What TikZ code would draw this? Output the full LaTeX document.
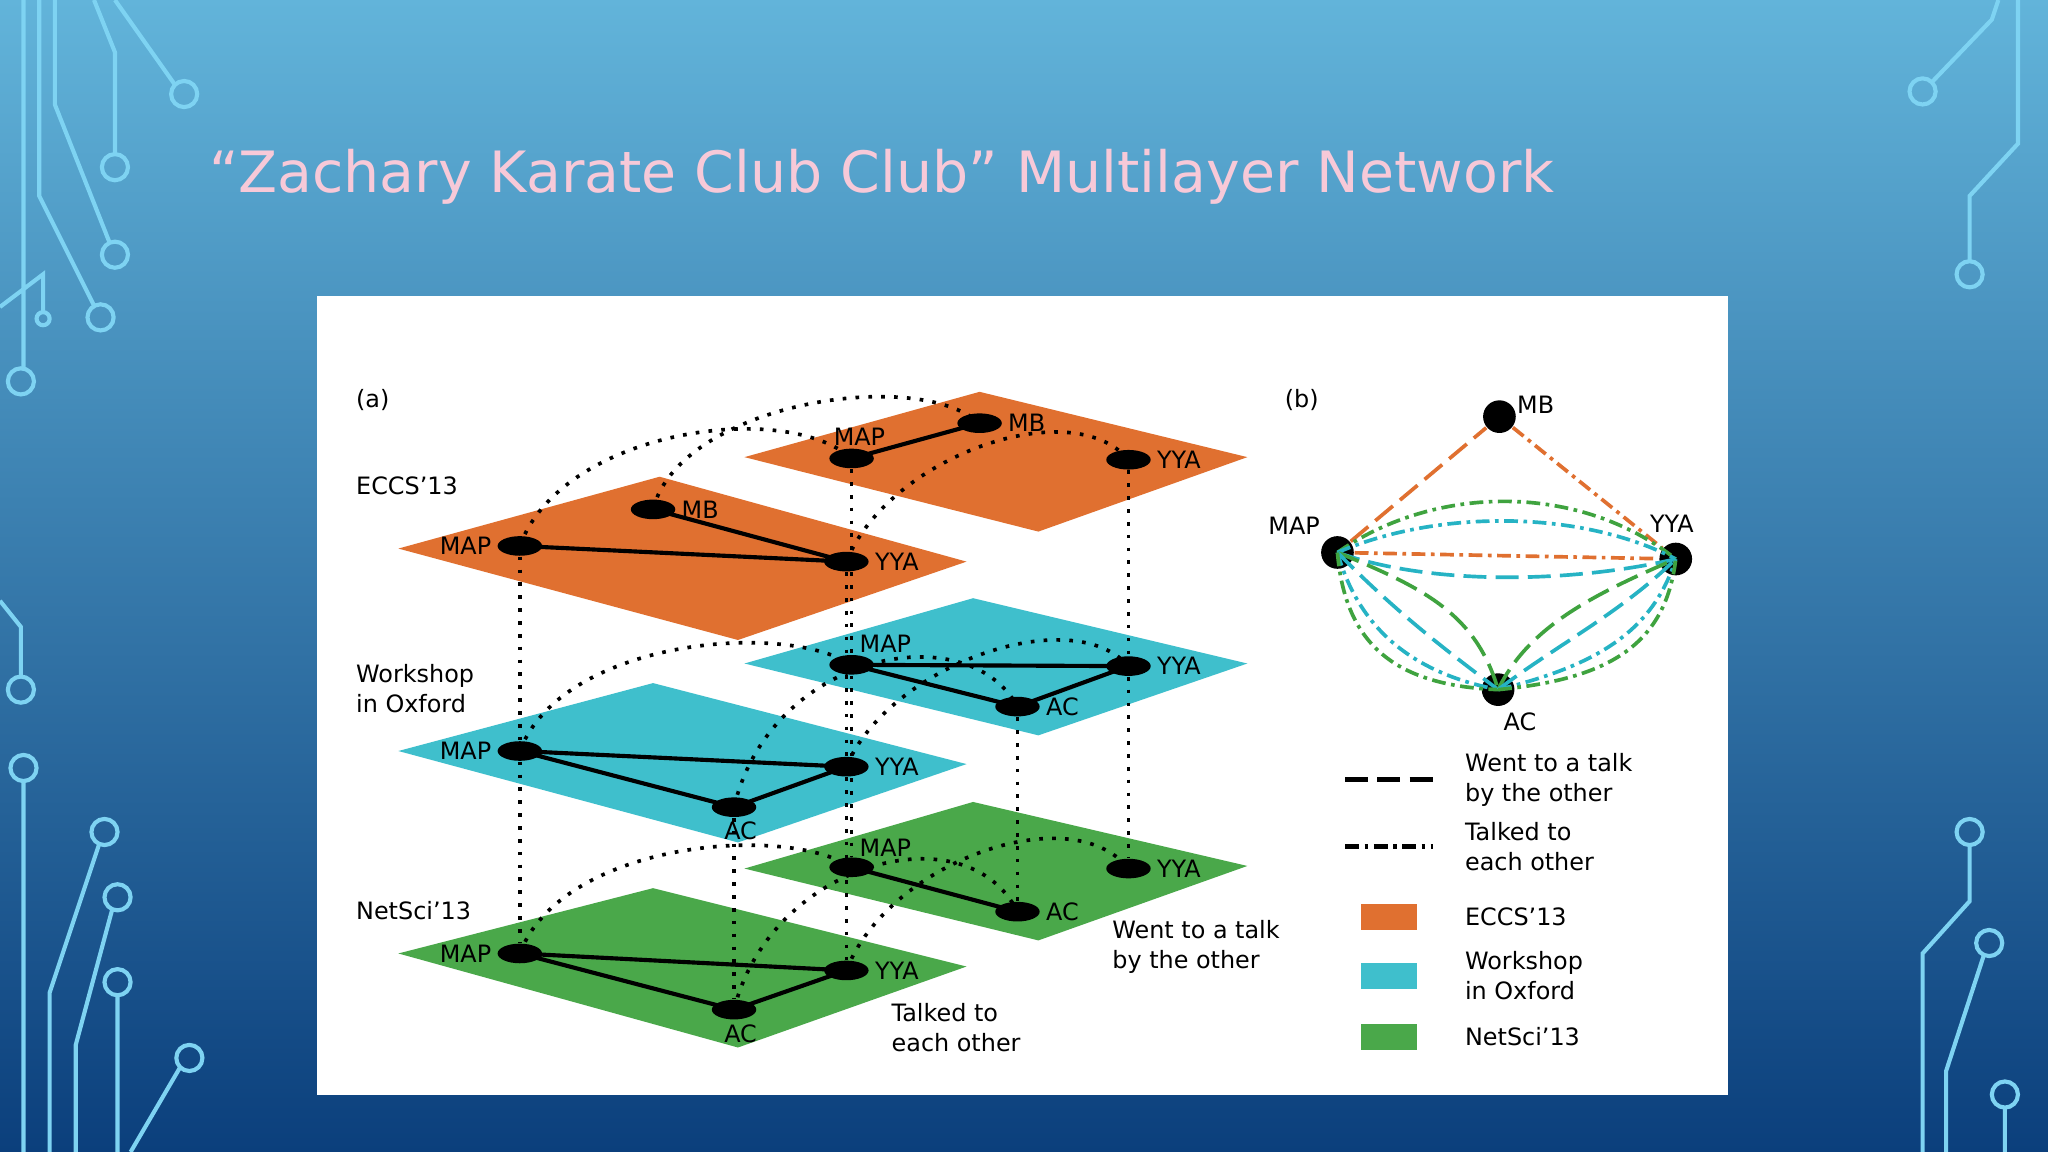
\documentclass[tikz,border=0pt]{standalone}
\usepackage{fontspec}
\setmainfont{DejaVu Sans}[Ligatures=ResetAll]
\usetikzlibrary{shapes.geometric}
\definecolor{bgtop}{HTML}{62B4DA}
\definecolor{bgbot}{HTML}{0B3F7C}
\definecolor{circ}{HTML}{7ED3F2}
\definecolor{tpink}{HTML}{F7C9D8}
\definecolor{lor}{HTML}{E07030}
\definecolor{lcy}{HTML}{3FBFCC}
\definecolor{lgr}{HTML}{4AA84A}
\definecolor{ecy}{HTML}{26B3C4}
\definecolor{egr}{HTML}{3FA33F}
\newcommand{\ap}{\symbol{39}}
\begin{document}
\begin{tikzpicture}[x=0.01cm,y=-0.01cm,
  nd/.style={ellipse,fill=black,inner sep=0pt,minimum width=0.34cm,minimum height=0.15cm},
  bn/.style={circle,fill=black,inner sep=0pt,minimum size=0.25cm},
  lb/.style={font=\fontsize{5.2}{6}\selectfont,inner sep=1pt},
  txt/.style={font=\fontsize{5.2}{6.6}\selectfont,align=left,anchor=west,inner sep=0pt},
  edge/.style={line width=0.9pt,black},
  dt/.style={line width=0.8pt,dotted,black},
  cir/.style={circ,line width=0.9pt},
  da/.style={line width=0.8pt,dash pattern=on 5pt off 2pt},
  dd/.style={line width=0.8pt,dash pattern=on 3pt off 1.2pt on 0.8pt off 1.2pt}]
\useasboundingbox (0,0) rectangle (1568,882);
\shade[top color=bgtop,bottom color=bgbot] (0,0) rectangle (1568,882);
% circuit decorations
\foreach \p in {(16,292),(77,243),(88,195),(88,128),(141,72),(16,528),(18,588),(80,637),(90,687),(90,752),(145,810),(1472,70),(1508,210),(1508,637),(1523,722),(1535,838)}
  \draw[cir] \p circle (10);
\draw[cir] (33,244) circle (5);
\draw[cir] (18,0)--(18,282) (30,0)--(30,150)--(72,234) (42,0)--(42,80)--(84,186) (72,0)--(88,40)--(88,118) (88,0)--(134,65)
 (0,235)--(33,210)--(33,239) (0,460)--(16,480)--(16,518) (18,598)--(18,882) (76,646)--(38,760)--(38,882) (86,696)--(58,800)--(58,882)
 (90,762)--(90,882) (138,817)--(100,882)
 (1479,63)--(1525,15)--(1530,0) (1508,200)--(1508,150)--(1545,110)--(1545,0)
 (1508,647)--(1508,690)--(1472,730)--(1472,882) (1519,731)--(1490,820)--(1490,882) (1535,848)--(1535,882);
% title
\node[tpink,anchor=west,font=\fontsize{12.4}{15}\selectfont,inner sep=0pt] (title) at (160,135) {“Zachary Karate Club Club” Multilayer Network};
% panel
\fill[white] (243,227) rectangle (1323,838);
% layers (back first)
\fill[lor] (570,350)--(750,300)--(955,350)--(795,407)--cycle;
\fill[lor] (305,420)--(505,365)--(740,430)--(565,490)--cycle;
\fill[lcy] (570,508)--(745,458)--(955,508)--(795,563)--cycle;
\fill[lcy] (305,575)--(500,523)--(740,585)--(565,645)--cycle;
\fill[lgr] (570,665)--(745,614)--(955,663)--(795,720)--cycle;
\fill[lgr] (305,730)--(500,680)--(740,740)--(565,802)--cycle;
% nodes
\node[nd] (eMAP) at (398,418) {}; \node[nd] (eMB) at (500,390) {}; \node[nd] (eYYA) at (648,430) {};
\node[nd] (EMAP) at (652,351) {}; \node[nd] (EMB) at (750,324) {}; \node[nd] (EYYA) at (864,352) {};
\node[nd] (wMAP) at (398,575) {}; \node[nd] (wYYA) at (648,587) {}; \node[nd] (wAC) at (562,618) {};
\node[nd] (WMAP) at (652,509) {}; \node[nd] (WYYA) at (864,510) {}; \node[nd] (WAC) at (779,541) {};
\node[nd] (nMAP) at (398,730) {}; \node[nd] (nYYA) at (648,743) {}; \node[nd] (nAC) at (562,773) {};
\node[nd] (NMAP) at (652,664) {}; \node[nd] (NYYA) at (864,665) {}; \node[nd] (NAC) at (779,698) {};
% intra-layer edges
\draw[edge] (eMAP.center)--(eYYA.center) (eMB.center)--(eYYA.center) (EMAP.center)--(EMB.center);
\draw[edge] (wMAP.center)--(wYYA.center) (wMAP.center)--(wAC.center) (wAC.center)--(wYYA.center);
\draw[edge] (WMAP.center)--(WYYA.center) (WMAP.center)--(WAC.center) (WAC.center)--(WYYA.center);
\draw[edge] (nMAP.center)--(nYYA.center) (nMAP.center)--(nAC.center) (nAC.center)--(nYYA.center);
\draw[edge] (NMAP.center)--(NAC.center);
% vertical dotted
\draw[dt] (eMAP)--(wMAP) (wMAP)--(nMAP) (eYYA)--(wYYA) (wYYA)--(nYYA) (wAC)--(nAC);
\draw[dt] (EMAP)--(WMAP) (WMAP)--(NMAP) (EYYA)--(WYYA) (WYYA)--(NYYA) (WAC)--(NAC);
% arcs between copies
\draw[dt] (eMAP.center) .. controls (430,330) and (600,305) .. (EMAP.center);
\draw[dt] (eMB.center) .. controls (520,310) and (700,280) .. (EMB.center);
\draw[dt] (eYYA.center) .. controls (680,350) and (820,300) .. (EYYA.center);
\draw[dt] (wMAP.center) .. controls (430,490) and (600,475) .. (WMAP.center);
\draw[dt] (wAC.center) .. controls (590,500) and (740,470) .. (WAC.center);
\draw[dt] (wYYA.center) .. controls (680,510) and (820,460) .. (WYYA.center);
\draw[dt] (nMAP.center) .. controls (430,645) and (600,630) .. (NMAP.center);
\draw[dt] (nAC.center) .. controls (590,660) and (740,620) .. (NAC.center);
\draw[dt] (nYYA.center) .. controls (680,660) and (820,610) .. (NYYA.center);
% node labels
\node[lb,anchor=east] at (eMAP.west) {MAP}; \node[lb,anchor=west] at (eMB.east) {MB}; \node[lb,anchor=west] at (eYYA.east) {YYA};
\node[lb,anchor=south] at (658,345) {MAP}; \node[lb,anchor=west] at (EMB.east) {MB}; \node[lb,anchor=west] at (EYYA.east) {YYA};
\node[lb,anchor=east] at (wMAP.west) {MAP}; \node[lb,anchor=west] at (wYYA.east) {YYA}; \node[lb,anchor=north] at (567,625) {AC};
\node[lb,anchor=west] at (654,493) {MAP}; \node[lb,anchor=west] at (WYYA.east) {YYA}; \node[lb,anchor=west] at (WAC.east) {AC};
\node[lb,anchor=east] at (nMAP.west) {MAP}; \node[lb,anchor=west] at (nYYA.east) {YYA}; \node[lb,anchor=north] at (567,780) {AC};
\node[lb,anchor=west] at (654,649) {MAP}; \node[lb,anchor=west] at (NYYA.east) {YYA}; \node[lb,anchor=west] at (NAC.east) {AC};
% layer labels
\node[txt] (la) at (272,306) {(a)};
\node[txt] (lb1) at (272,372) {ECCS\ap13};
\node[txt] (lw) at (272,527) {Workshop\\in Oxford};
\node[txt] (ln) at (272,697) {NetSci\ap13};
\node[txt] (an1) at (851,725) {Went to a talk\\by the other};
\node[txt] (an2) at (682,787) {Talked to\\each other};
% panel b
\node[txt] (lbb) at (983,306) {(b)};
\node[bn] (MB) at (1148,319) {}; \node[bn] (MAP) at (1024,423) {}; \node[bn] (YYA) at (1283,428) {}; \node[bn] (AC) at (1147,528) {};
\node[lb,anchor=west] at (MB.north east) {MB};
\node[lb,anchor=south east] at (MAP.north west) {MAP};
\node[lb,anchor=south] at (1280,412) {YYA};
\node[lb,anchor=north west] at (AC.south) {AC};
\draw[da,lor] (MAP)--(MB);
\draw[dd,lor] (MB)--(YYA);
\draw[dd,lor] (MAP)--(YYA);
\draw[dd,egr] (MAP.center) .. controls (1100,370) and (1210,370) .. (YYA.center);
\draw[dd,ecy] (MAP.center) .. controls (1100,390) and (1210,390) .. (YYA.center);
\draw[da,ecy] (MAP.center) .. controls (1100,450) and (1210,445) .. (YYA.center);
\draw[da,egr] (MAP.center) .. controls (1090,450) and (1130,470) .. (AC.center);
\draw[da,ecy] (MAP.center) .. controls (1070,470) and (1110,500) .. (AC.center);
\draw[dd,ecy] (MAP.center) .. controls (1040,480) and (1080,515) .. (AC.center);
\draw[dd,egr] (MAP.center) .. controls (1030,495) and (1070,525) .. (AC.center);
\draw[da,egr] (AC.center) .. controls (1170,480) and (1220,455) .. (YYA.center);
\draw[da,ecy] (AC.center) .. controls (1190,495) and (1240,470) .. (YYA.center);
\draw[dd,ecy] (AC.center) .. controls (1220,510) and (1265,485) .. (YYA.center);
\draw[dd,egr] (AC.center) .. controls (1230,520) and (1275,495) .. (YYA.center);
% legend
\coordinate (l1a) at (1030,597); \coordinate (l1b) at (1097,597);
\coordinate (l2a) at (1030,648); \coordinate (l2b) at (1097,648);
\draw[line width=1pt,dash pattern=on 5pt off 2pt] (l1a)--(l1b);
\draw[line width=1pt,dash pattern=on 3pt off 1.2pt on 0.8pt off 1.2pt] (l2a)--(l2b);
\node[txt] (t1) at (1121,597) {Went to a talk\\by the other};
\node[txt] (t2) at (1121,648) {Talked to\\each other};
\fill[lor] (1042,692) rectangle (1085,712);
\fill[lcy] (1042,737) rectangle (1085,757);
\fill[lgr] (1042,784) rectangle (1085,804);
\node[txt] (t3) at (1121,702) {ECCS\ap13};
\node[txt] (t4) at (1121,747) {Workshop\\in Oxford};
\node[txt] (t5) at (1121,794) {NetSci\ap13};
\end{tikzpicture}
\end{document}
